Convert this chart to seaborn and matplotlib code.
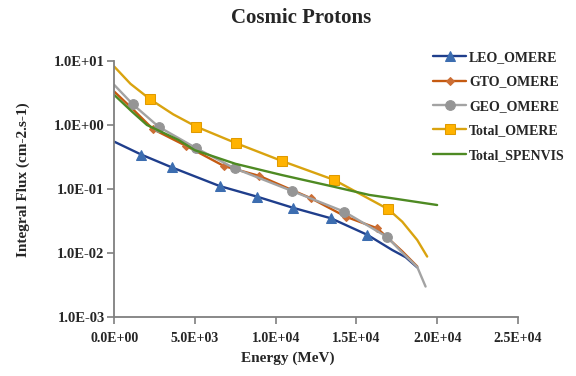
import matplotlib
matplotlib.use("Agg")
import matplotlib.pyplot as plt
from matplotlib.ticker import FuncFormatter, FixedLocator, NullLocator
import seaborn as sns
import pandas as pd

# Integral flux readings (energy in MeV, flux in cm-2.s-1)
leo_energy = [0, 1680, 3550, 6525, 8852, 11050, 13420, 15680, 17223, 18050, 18766]
leo_flux = [0.542, 0.34, 0.216, 0.110, 0.075, 0.0505, 0.0345, 0.019, 0.0110, 0.0085, 0.0059]
leo_marks = [1, 2, 3, 4, 5, 6, 7]

gto_energy = [0, 1093, 2400, 4426, 6790, 8994, 12186, 14346, 16297, 17840, 18766]
gto_flux = [3.28, 1.80, 0.85, 0.469, 0.226, 0.158, 0.0708, 0.0365, 0.024, 0.0105, 0.0061]
gto_marks = [2, 3, 4, 5, 6, 7, 8]

geo_energy = [0, 1136, 2741, 5086, 7451, 11012, 14241, 16914, 17840, 18766, 19284]
geo_flux = [4.17, 2.09, 0.93, 0.428, 0.208, 0.092, 0.0438, 0.0175, 0.0100, 0.0060, 0.00296]
geo_marks = [1, 2, 3, 4, 5, 6, 7]

tot_energy = [0, 1000, 2222, 3650, 5086, 7556, 10400, 13624, 16976, 17840, 18766, 19383]
tot_flux = [8.06, 4.35, 2.49, 1.45, 0.93, 0.513, 0.27, 0.137, 0.0477, 0.0305, 0.0158, 0.0087]
tot_marks = [2, 4, 5, 6, 7, 8]

spv_energy = [0, 1093, 2018, 3975, 4981, 7500, 10400, 13624, 15785, 17223, 20000]
spv_flux = [2.91, 1.60, 0.99, 0.577, 0.40, 0.245, 0.163, 0.107, 0.080, 0.0708, 0.0556]

x_ticks = [0, 5000, 10000, 15000, 20000, 25000]
y_ticks = [1e-3, 1e-2, 1e-1, 1e0, 1e1]

sns.set_theme(style="white")
plt.rcParams["font.family"] = ["Liberation Serif", "DejaVu Serif"]
plt.rcParams["font.weight"] = "bold"

fig = plt.figure(figsize=(5.76, 3.76), dpi=100)
ax = fig.add_axes([0.1985, 0.1577, 0.7005, 0.6809])

series = [
    ("LEO_OMERE", leo_energy, leo_flux, leo_marks,
     dict(color="#1F3E8C", marker="^", markersize=7, markerfacecolor="#3C6DB0",
          markeredgecolor="#3C6DB0")),
    ("GTO_OMERE", gto_energy, gto_flux, gto_marks,
     dict(color="#C55A11", marker="D", markersize=4.5, markerfacecolor="#CC6E34",
          markeredgecolor="#CC6E34")),
    ("GEO_OMERE", geo_energy, geo_flux, geo_marks,
     dict(color="#A3A3A3", marker="o", markersize=7, markerfacecolor="#959595",
          markeredgecolor="#959595")),
    ("Total_OMERE", tot_energy, tot_flux, tot_marks,
     dict(color="#D9A30F", marker="s", markersize=7.5, markerfacecolor="#FFB300",
          markeredgecolor="#E09A00")),
    ("Total_SPENVIS", spv_energy, spv_flux, None,
     dict(color="#4E8A23")),
]

for name, xs, ys, marks, style in series:
    df = pd.DataFrame({"Energy": xs, "Flux": ys})
    kw = dict(style)
    if marks is not None:
        kw["markevery"] = marks
    sns.lineplot(data=df, x="Energy", y="Flux", ax=ax, sort=False, estimator=None,
                 linewidth=1.7, label=name, **kw)

ax.set_yscale("log")
ax.set_xlim(0, 25000)
ax.set_ylim(1e-3, 1e1)
ax.xaxis.set_major_locator(FixedLocator(x_ticks))
ax.yaxis.set_major_locator(FixedLocator(y_ticks))
ax.yaxis.set_minor_locator(NullLocator())
ax.xaxis.set_minor_locator(NullLocator())
fmt = FuncFormatter(lambda v, p: f"{v:.1E}")
ax.xaxis.set_major_formatter(fmt)
ax.yaxis.set_major_formatter(fmt)

for side in ("top", "right"):
    ax.spines[side].set_visible(False)
for side in ("left", "bottom"):
    ax.spines[side].set_color("#7F7F7F")
    ax.spines[side].set_linewidth(1.3)
ax.tick_params(axis="both", which="major", direction="out", length=5, width=1.2,
               color="#7F7F7F", left=True, bottom=True)
ax.tick_params(axis="x", labelsize=10, pad=6)
ax.tick_params(axis="y", labelsize=10.5, pad=2)
for lab in ax.get_xticklabels() + ax.get_yticklabels():
    lab.set_fontweight("bold")
ax.grid(False)
ax.set_xlabel("")
ax.set_ylabel("")

fig.text(0.523, 0.953, "Cosmic Protons", ha="center", va="center",
         fontsize=15, fontweight="bold")
fig.text(0.499, 0.046, "Energy (MeV)", ha="center", va="center",
         fontsize=11, fontweight="bold")
fig.text(0.040, 0.521, "Integral Flux (cm-2.s-1)", ha="center", va="center",
         rotation=90, fontsize=11, fontweight="bold")

ax.get_legend().remove()
handles, labels = ax.get_legend_handles_labels()
leg = fig.legend(handles, labels, loc="upper left", bbox_to_anchor=(0.752, 0.864),
                 frameon=False, fontsize=10, handlelength=2.4, handletextpad=0.2,
                 labelspacing=0.82, borderpad=0, borderaxespad=0)
for t in leg.get_texts():
    t.set_fontweight("bold")

fig.savefig("out.png", dpi=100)
